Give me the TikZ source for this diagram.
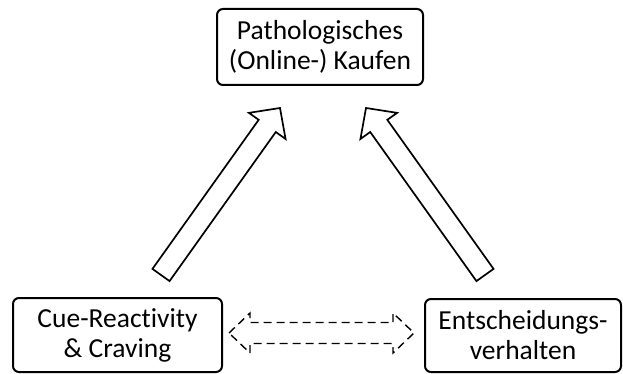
\documentclass[tikz,border=0pt]{standalone}
\usepackage{fontspec}
\setmainfont{Carlito}[Ligatures=NoCommon]
\usetikzlibrary{calc}

\tikzset{
  box/.style={draw, line width=2pt, rounded corners=6pt, align=center,
    inner sep=0pt, font=\fontsize{27.5}{30}\selectfont},
  blockarrow/.style={draw, line width=1.7pt, line join=miter, fill=white},
  dashedarrow/.style={draw, line width=1.4pt, dash pattern=on 8pt off 5pt}
}

% outlined block arrow from tail #1 to tip #2
\newcommand\hollowarrow[3][]{%
  \path[blockarrow,#1]
    let \p0 = ($(#3)!22pt!(#2)$) in
    ($(#2)!10.5pt!90:(#3)$) --
    ($(\p0)!10.5pt!90:(#3)$) --
    ($(\p0)!22.5pt!90:(#3)$) --
    (#3) --
    ($(\p0)!22.5pt!-90:(#3)$) --
    ($(\p0)!10.5pt!-90:(#3)$) --
    ($(#2)!10.5pt!-90:(#3)$) -- cycle;}

% outlined double-headed arrow between tips #2 and #3
\newcommand\hollowtwoway[3][]{%
  \path[#1]
    let \p1 = ($(#2)!21pt!(#3)$), \p2 = ($(#3)!21pt!(#2)$) in
    (#2) --
    ($(\p1)!20pt!90:(#3)$) --
    ($(\p1)!10.5pt!90:(#3)$) --
    ($(\p2)!10.5pt!-90:(#2)$) --
    ($(\p2)!20pt!-90:(#2)$) --
    (#3) --
    ($(\p2)!20pt!90:(#2)$) --
    ($(\p2)!10.5pt!90:(#2)$) --
    ($(\p1)!10.5pt!-90:(#3)$) --
    ($(\p1)!20pt!-90:(#3)$) -- cycle;}

\begin{document}
\begin{tikzpicture}[x=1pt, y=-1pt]
  \useasboundingbox (0,0) rectangle (623,374);

  \node[box, minimum width=206pt, minimum height=76pt] (kauf) at (320,47)
    {Pathologisches\\(Online-) Kaufen};
  \node[box, minimum width=209pt, minimum height=74pt] (cue) at (117.5,335)
    {Cue-Reactivity\\\& Craving};
  \node[box, minimum width=196pt, minimum height=73pt] (ent) at (523,335.5)
    {Entscheidungs-\\verhalten};

  % ends of the block arrows
  \coordinate (lt) at (161,275);
  \coordinate (lh) at (280,108);
  \coordinate (rt) at (485,275);
  \coordinate (rh) at (366,108);
  \coordinate (dl) at (229,333);
  \coordinate (dr) at (414,333);

  \hollowarrow{lt}{lh}
  \hollowarrow{rt}{rh}
  \hollowtwoway[dashedarrow]{dl}{dr}
\end{tikzpicture}
\end{document}
